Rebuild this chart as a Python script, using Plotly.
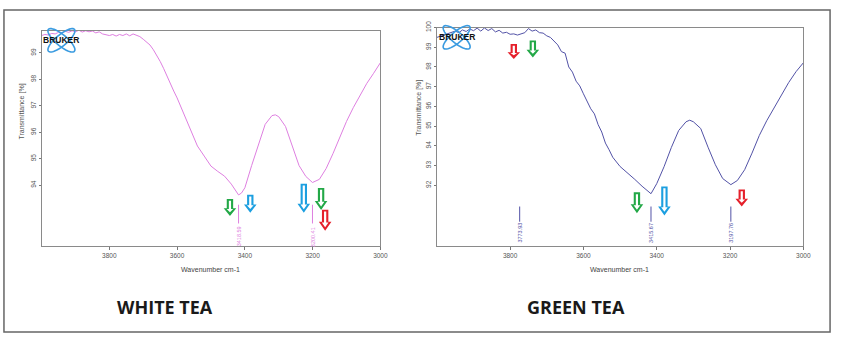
import numpy as np
import plotly.graph_objects as go

# ---------------- data ----------------
wt_wn = [4000, 3990, 3980, 3970, 3960, 3950, 3940, 3930, 3920, 3910, 3900, 3890, 3880, 3870, 3860,
         3850, 3840, 3830, 3820, 3810, 3800, 3790, 3780, 3770, 3760, 3750, 3740, 3730, 3720, 3710,
         3700, 3690, 3680, 3670, 3660, 3650, 3640, 3630, 3620, 3610, 3600, 3580, 3560, 3540, 3520,
         3500, 3480, 3460, 3440, 3430, 3418.59, 3410, 3400, 3380, 3360, 3340, 3320, 3310, 3300,
         3280, 3260, 3240, 3220, 3200.41, 3180, 3160, 3140, 3120, 3100, 3080, 3060, 3040, 3020, 3000]
wt_t = [99.66, 99.70, 99.68, 99.74, 99.72, 99.78, 99.76, 99.82, 99.78, 99.84, 99.80, 99.86, 99.79, 99.84, 99.80,
        99.83, 99.76, 99.80, 99.72, 99.70, 99.66, 99.70, 99.64, 99.70, 99.66, 99.72, 99.65, 99.72, 99.68, 99.62,
        99.52, 99.42, 99.30, 99.12, 98.92, 98.68, 98.42, 98.12, 97.82, 97.56, 97.30, 96.68, 96.07, 95.48, 95.10,
        94.72, 94.52, 94.34, 94.04, 93.84, 93.63, 93.70, 93.90, 94.74, 95.56, 96.30, 96.63, 96.66, 96.59,
        96.22, 95.48, 94.74, 94.33, 94.10, 94.22, 94.63, 95.19, 95.81, 96.41, 96.93, 97.41, 97.85, 98.23, 98.63]

gt_wn = [4000, 3990, 3980, 3970, 3960, 3950, 3940, 3930, 3920, 3910, 3900, 3890, 3880, 3870, 3860,
         3850, 3840, 3830, 3820, 3810, 3800, 3790, 3780, 3770, 3760, 3750, 3740, 3730, 3720, 3710,
         3700, 3690, 3680, 3670, 3660, 3650, 3640, 3630, 3620, 3610, 3600, 3590, 3580, 3570, 3560,
         3550, 3540, 3530, 3520, 3500, 3480, 3460, 3440, 3415.67, 3400, 3380, 3360, 3340, 3320, 3310,
         3300, 3280, 3260, 3240, 3220, 3197.76, 3180, 3160, 3140, 3120, 3100, 3080, 3060, 3040, 3020, 3000]
gt_t = [99.50, 99.56, 99.62, 99.70, 99.76, 99.82, 99.74, 99.88, 99.80, 99.93, 99.84, 99.97, 99.82, 99.98, 99.85,
        99.95, 99.78, 99.86, 99.72, 99.76, 99.66, 99.68, 99.62, 99.68, 99.74, 99.95, 99.82, 99.88, 99.74, 99.72,
        99.58, 99.50, 99.30, 99.12, 98.78, 98.70, 98.00, 97.74, 97.28, 97.04, 96.64, 96.30, 95.88, 95.62, 95.08,
        94.70, 94.14, 93.80, 93.42, 92.95, 92.64, 92.30, 91.95, 91.57, 92.08, 92.94, 93.92, 94.78, 95.22, 95.30,
        95.22, 94.88, 93.93, 93.04, 92.34, 92.03, 92.24, 92.79, 93.63, 94.53, 95.27, 95.92, 96.57, 97.21, 97.76, 98.21]

wt_peaks = [3418.59, 3200.41]
wt_peak_labels = ["3418.59", "3200.41"]
gt_peaks = [3773.93, 3415.67, 3197.76]
gt_peak_labels = ["3773.93", "3415.67", "3197.76"]

x_ticks = [3800, 3600, 3400, 3200, 3000]
wt_yticks = [94, 95, 96, 97, 98, 99]
gt_yticks = [92, 93, 94, 95, 96, 97, 98, 99, 100]

# arrows: (wavenumber, top transmittance, length px, colour)
GREEN, BLUE, RED = "#23A847", "#1C9FE0", "#E5202B"
wt_arrows = [(3444, 93.48, 17, GREEN), (3384, 93.64, 18, BLUE), (3226, 94.05, 29, BLUE),
             (3175, 93.89, 22, GREEN), (3163, 93.07, 21, RED)]
gt_arrows = [(3790, 99.17, 15, RED), (3738, 99.35, 17, GREEN), (3454, 91.64, 21, GREEN),
             (3379, 91.94, 29, BLUE), (3168, 91.79, 17, RED)]

W, H = 845, 338
def px(x): return x / W
def py(y): return 1 - y / H

WT_COL = "#DE7FE0"
GT_COL = "#5252A6"
FONT = "Liberation Sans, Arial"
TICKFONT = dict(family=FONT, size=6.5, color="#555555")

fig = go.Figure()
fig.add_trace(go.Scatter(x=wt_wn, y=wt_t, mode="lines", line=dict(color=WT_COL, width=1),
                         xaxis="x", yaxis="y", showlegend=False, hoverinfo="skip"))
fig.add_trace(go.Scatter(x=gt_wn, y=gt_t, mode="lines", line=dict(color=GT_COL, width=1),
                         xaxis="x2", yaxis="y2", showlegend=False, hoverinfo="skip"))

def xax(domain, anchor):
    return dict(domain=domain, range=[4000, 3000], anchor=anchor, tickvals=x_ticks,
                showline=True, mirror=True, linecolor="#8a8a8a", linewidth=1,
                ticks="outside", ticklen=3, tickcolor="#777", tickfont=TICKFONT,
                showgrid=False, zeroline=False)

def yax(domain, anchor, rng, tv):
    return dict(domain=domain, range=rng, anchor=anchor, tickvals=tv, tickangle=-90,
                showline=True, mirror=True, linecolor="#8a8a8a", linewidth=1,
                ticks="outside", ticklen=2, tickcolor="#777", tickfont=TICKFONT,
                showgrid=False, zeroline=False)

fig.update_layout(
    width=W, height=H, margin=dict(l=0, r=0, t=0, b=0),
    paper_bgcolor="white", plot_bgcolor="white",
    xaxis=xax([px(42), px(384)], "y"),
    yaxis=yax([py(244), py(24)], "x", [91.70, 99.85], wt_yticks),
    xaxis2=xax([px(441), px(811)], "y2"),
    yaxis2=yax([py(244), py(21)], "x2", [88.92, 100.0], gt_yticks),
)

shapes = []
annotations = []

def paper_text(cx, cy, text, font, angle=0):
    annotations.append(dict(x=px(cx), y=py(cy), xref="paper", yref="paper", text=text,
                            xanchor="center", yanchor="middle", showarrow=False,
                            textangle=angle, font=font))

# outer frame
shapes.append(dict(type="rect", xref="paper", yref="paper", x0=px(4), x1=px(838), y0=py(332), y1=py(3),
                   line=dict(color="#666666", width=1.5)))

def arrow_paths(L):
    s, h = 3.2, 6.3
    hl = min(9.0, L * 0.45)
    b = -(L - hl)
    outer = f"M {-s},0 L {s},0 L {s},{b} L {h},{b} L 0,{-L} L {-h},{b} L {-s},{b} Z"
    si, hi, t = 1.1, 3.3, 1.8
    bi = b - 0.8
    inner = f"M {-si},{-t} L {si},{-t} L {si},{bi} L {hi},{bi} L 0,{-L + 3.6} L {-hi},{bi} L {-si},{bi} Z"
    return outer, inner

for arrows, xr, yr in [(wt_arrows, "x", "y"), (gt_arrows, "x2", "y2")]:
    for wn, top, L, col in arrows:
        outer, inner = arrow_paths(L)
        shapes.append(dict(type="path", xref=xr, yref=yr, xsizemode="pixel", ysizemode="pixel",
                           xanchor=wn, yanchor=top, path=outer, fillcolor=col, line=dict(width=0)))
        shapes.append(dict(type="path", xref=xr, yref=yr, xsizemode="pixel", ysizemode="pixel",
                           xanchor=wn, yanchor=top, path=inner, fillcolor="white", line=dict(width=0)))

# peak marker lines and labels
for peaks, labels, xr, yr, y0, y1, ylab, col in [
        (wt_peaks, wt_peak_labels, "x", "y", 93.26, 92.55, 92.05, WT_COL),
        (gt_peaks, gt_peak_labels, "x2", "y2", 90.92, 90.15, 89.58, GT_COL)]:
    for p, lab in zip(peaks, labels):
        shapes.append(dict(type="line", xref=xr, yref=yr, x0=p, x1=p, y0=y0, y1=y1,
                           line=dict(color=col, width=1)))
        annotations.append(dict(x=p, y=ylab, xref=xr, yref=yr, text=lab, showarrow=False,
                                xanchor="center", yanchor="middle", textangle=-90,
                                font=dict(family=FONT, size=5.5, color=col)))

# Bruker logos
def ellipse_path(a, b, ang, n=48):
    t = np.linspace(0, 2 * np.pi, n)
    ca, sa = np.cos(np.radians(ang)), np.sin(np.radians(ang))
    xs = a * np.cos(t) * ca - b * np.sin(t) * sa
    ys = a * np.cos(t) * sa + b * np.sin(t) * ca
    return "M " + " L ".join(f"{x:.2f},{y:.2f}" for x, y in zip(xs, ys)) + " Z"

for cx, cy in [(62, 34), (461, 31)]:
    for ang in (40, -40):
        shapes.append(dict(type="path", xref="paper", yref="paper", xsizemode="pixel", ysizemode="pixel",
                           xanchor=px(cx), yanchor=py(cy), path=ellipse_path(17, 5.5, ang),
                           line=dict(color="#3A9BE0", width=1.6)))
    paper_text(cx, cy, "<b>BRUKER</b>", dict(family=FONT, size=8.5, color="#111"))

# axis titles
for cx in (213, 625):
    paper_text(cx, 268, "Wavenumber cm-1", dict(family=FONT, size=7, color="#444"))
for cx, cy in [(22, 107), (423, 103)]:
    paper_text(cx, cy, "Transmittance [%]", dict(family=FONT, size=7, color="#555"), angle=-90)

# panel titles
for cx, txt in [(167, "WHITE TEA"), (582, "GREEN TEA")]:
    paper_text(cx, 306, f"<b>{txt}</b>", dict(family="Open Sans", size=18, color="#1a1a1a", weight=800))

fig.update_layout(shapes=shapes, annotations=annotations)
fig.write_html("out.html")
